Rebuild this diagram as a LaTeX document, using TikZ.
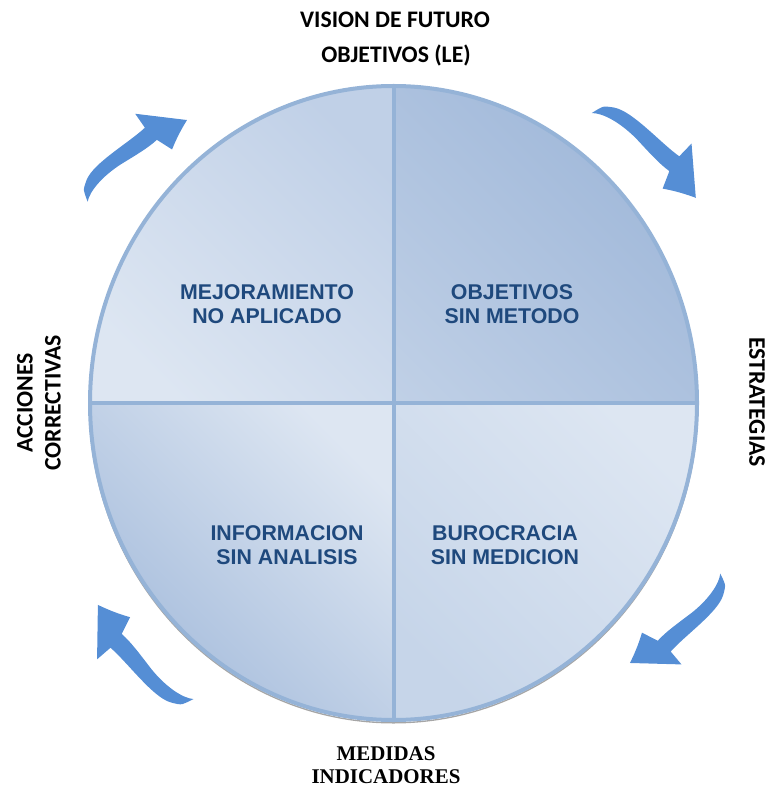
\documentclass[tikz,border=0pt]{standalone}
\usepackage{fontspec}
\newfontfamily\carl{Carlito}
\newfontfamily\arl{Liberation Sans}
\newfontfamily\tms{Liberation Serif}
\usetikzlibrary{shapes.geometric,shadings}
\definecolor{bord}{HTML}{95B3D7}
\definecolor{txtblue}{HTML}{1F497D}
\definecolor{arrowblue}{HTML}{558ED5}
\definecolor{lightq}{HTML}{DDE6F2}
\definecolor{darkq}{HTML}{A4BBDB}
\definecolor{midq}{HTML}{D0DCEC}
\definecolor{softq}{HTML}{C0D0E7}
\definecolor{softmid}{HTML}{D6E0EF}
\definecolor{lrdark}{HTML}{C6D5E9}
\definecolor{lrmid}{HTML}{D8E2F0}
\begin{document}
\begin{tikzpicture}[x=0.75pt,y=0.75pt,
  quad/.style={font=\arl\bfseries\fontsize{16}{18.5}\selectfont, text=txtblue, align=center},
  lbl/.style={font=\carl\bfseries\fontsize{17.8}{20}\selectfont, align=center},
  lblserif/.style={font=\tms\bfseries\fontsize{15.7}{18}\selectfont},
  divider/.style={draw=bord, line width=3pt},
  bigarrow/.style={fill=arrowblue, draw=none}]
\useasboundingbox (0,0) rectangle (767,-787);

% shadow ring
\node[ellipse, draw=gray!70, line width=1pt, minimum width=456pt, minimum height=476pt, inner sep=0pt] (shadow) at (393.5,-405.5) {};

% main disc
\node[ellipse, draw=bord, line width=3pt, minimum width=455.25pt, minimum height=475.5pt, inner sep=0pt,
  path picture={
    \shade[left color=lightq, middle color=midq, right color=darkq, shading angle=135]
      (path picture bounding box.center) rectangle (path picture bounding box.north east);
    \shade[left color=lightq, middle color=softmid, right color=softq, shading angle=135]
      (path picture bounding box.center) rectangle (path picture bounding box.north west);
    \shade[left color=darkq, middle color=midq, right color=lightq, shading angle=135]
      (path picture bounding box.center) rectangle (path picture bounding box.south west);
    \shade[left color=lrdark, middle color=lrmid, right color=lightq, shading angle=135]
      (path picture bounding box.center) rectangle (path picture bounding box.south east);
  }] (circ) at (393.5,-403) {};

\draw[divider] (circ.north) -- (circ.south);
\draw[divider] (circ.west) -- (circ.east);

% quadrant texts
\node[quad] (q1) at (267,-304) {MEJORAMIENTO\\NO APLICADO};
\node[quad] (q2) at (512,-304) {OBJETIVOS\\SIN METODO};
\node[quad] (q3) at (287,-545) {INFORMACION\\SIN ANALISIS};
\node[quad] (q4) at (505,-545) {BUROCRACIA\\SIN MEDICION};

% outer labels
\node[lbl] (vis) at (395,-20) {VISION DE FUTURO};
\node[lbl] (obj) at (396,-55) {OBJETIVOS (LE)};
\node[lbl, rotate=90] (acc) at (25,-403) {ACCIONES};
\node[lbl, rotate=90] (corr) at (53,-403) {CORRECTIVAS};
\node[lbl, rotate=-90] (estr) at (757,-402) {ESTRATEGIAS};
\node[lblserif] (med) at (386,-754) {MEDIDAS};
\node[lblserif] (ind) at (386,-777) {INDICADORES};

% curved arrows (same outline, rotated round the disc)
\foreach \sx/\sy/\ang/\sc in {85/-200/38.1/0.997, 593/-110/-40.5/1.04, 723/-575/223.4/0.985, 192/-702/134.1/1.04}{
  \begin{scope}[shift={(\sx,\sy)}, rotate=\ang, scale=\sc]
    \fill[bigarrow] (1,-3) .. controls (9,4) and (28,8) .. (50,6)
      .. controls (68,4) and (82,2) .. (94,3)
      -- (100,-14) .. controls (112,-7) and (122,-3) .. (130,0)
      .. controls (118,12) and (104,26) .. (93,37)
      -- (92,20) .. controls (70,18) and (30,24) .. (14,15)
      .. controls (9,12) and (6,10) .. (5,8)
      .. controls (3,4) and (2,0) .. (1,-3) -- cycle;
  \end{scope}
}
\end{tikzpicture}
\end{document}
